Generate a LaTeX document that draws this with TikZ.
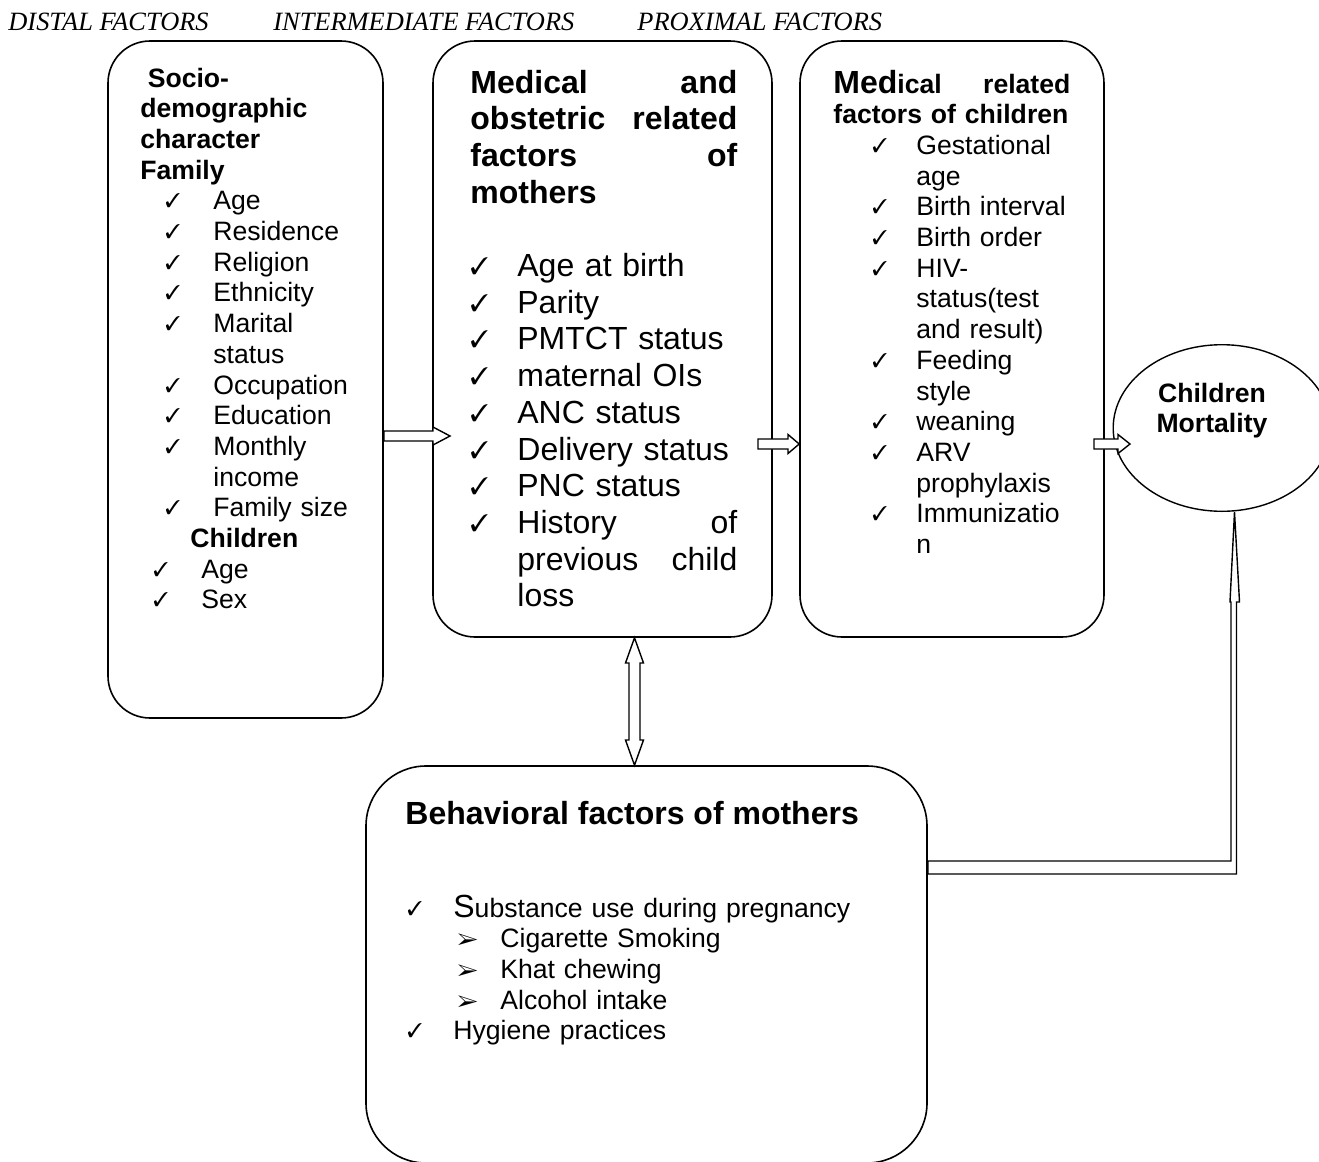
\documentclass[tikz,border=0pt]{standalone}
\usepackage{fontspec}
\setmainfont{Liberation Sans}
\newfontfamily\timesfont{Liberation Serif}
\usepackage{pifont}
\usepackage{graphicx}
\usetikzlibrary{shapes.geometric}

\newcommand{\ck}[1][24pt]{\makebox[#1][l]{\raisebox{1pt}{\scalebox{0.75}{\ding{51}}}}}
\newcommand{\subarr}[1][21.5pt]{\makebox[#1][l]{\scalebox{0.85}{\ding{226}}}}

\begin{document}
\begin{tikzpicture}[x=0.5pt,y=-0.5pt,
	factorbox/.style={draw,rounded corners=21pt,line width=0.8pt,inner sep=0pt},
	boxtext/.style={anchor=base west,inner sep=0pt,align=left,font=\fontsize{13.3}{15.35}\selectfont},
	bigtext/.style={anchor=base west,inner sep=0pt,align=left,font=\fontsize{16}{18.35}\selectfont},
	toplabel/.style={anchor=base west,inner sep=0pt,font=\timesfont\itshape\fontsize{13.2}{15}\selectfont},
	fatarrow/.style={draw,fill=white,line width=0.7pt,line join=miter}]
		\useasboundingbox (0,0) rectangle (1319,1162);
		
		% labels on top
		\node[toplabel] (distal) at (8,30) {DISTAL FACTORS};
		\node[toplabel] (interm) at (273,30) {INTERMEDIATE FACTORS};
		\node[toplabel] (proxim) at (637,30) {PROXIMAL FACTORS};
		
		% draw boxes
		\node[factorbox,minimum width=137.5pt,minimum height=338.5pt] (s1) at (245.5,379.5) {};
		\node[factorbox,minimum width=169.5pt,minimum height=298pt] (m1) at (602.5,339) {};
		\node[factorbox,minimum width=152pt,minimum height=298pt] (c1) at (952,339) {};
		\node[factorbox,rounded corners=30pt,minimum width=280.5pt,minimum height=198.5pt] (b1) at (646.5,964.5) {};
		\node[draw,ellipse,line width=0.7pt,inner sep=0pt,minimum width=108.8pt,minimum height=83.3pt] (ell) at (1222,428) {};
		
		% socio-demographic text
		\node[boxtext,text width=120pt] (s1t) at (140,87) {%
			\textbf{\hspace*{3.7pt}Socio-}\\
			\textbf{demographic}\\
			\textbf{character}\\
			\textbf{Family}\\
			\hspace*{12.5pt}\ck Age\\
			\hspace*{12.5pt}\ck Residence\\
			\hspace*{12.5pt}\ck Religion\\
			\hspace*{12.5pt}\ck Ethnicity\\
			\hspace*{12.5pt}\ck Marital\\
			\hspace*{36.5pt}status\\
			\hspace*{12.5pt}\ck Occupation\\
			\hspace*{12.5pt}\ck Education\\
			\hspace*{12.5pt}\ck Monthly\\
			\hspace*{36.5pt}income\\
			\hspace*{12.5pt}\ck Family size\\
			\hspace*{25pt}\textbf{Children}\\
			\hspace*{6.5pt}\ck Age\\
			\hspace*{6.5pt}\ck Sex};
		
		% medical and obstetric text
		\node[bigtext,text width=133.5pt] (m1t) at (470,93) {%
			\textbf{Medical\hfill and}\\
			\textbf{obstetric\hfill related}\\
			\textbf{factors\hfill of}\\
			\textbf{mothers}\\[18.35pt]
			\ck[23.5pt]Age at birth\\
			\ck[23.5pt]Parity\\
			\ck[23.5pt]PMTCT status\\
			\ck[23.5pt]maternal OIs\\
			\ck[23.5pt]ANC status\\
			\ck[23.5pt]Delivery status\\
			\ck[23.5pt]PNC status\\
			\ck[23.5pt]History\hfill of\\
			\hspace*{23.5pt}previous\hfill child\\
			\hspace*{23.5pt}loss};
		
		% medical factors of children text
		\node[boxtext,text width=118.5pt] (c1t) at (833,93) {%
			\textbf{{\fontsize{16}{18}\selectfont Med}ical\hfill related}\\
			\textbf{factors of children}\\
			\hspace*{19.5pt}\ck[22pt]Gestational\\
			\hspace*{41.5pt}age\\
			\hspace*{19.5pt}\ck[22pt]Birth interval\\
			\hspace*{19.5pt}\ck[22pt]Birth order\\
			\hspace*{19.5pt}\ck[22pt]HIV-\\
			\hspace*{41.5pt}status(test\\
			\hspace*{41.5pt}and result)\\
			\hspace*{19.5pt}\ck[22pt]Feeding\\
			\hspace*{41.5pt}style\\
			\hspace*{19.5pt}\ck[22pt]weaning\\
			\hspace*{19.5pt}\ck[22pt]ARV\\
			\hspace*{41.5pt}prophylaxis\\
			\hspace*{19.5pt}\ck[22pt]Immunizatio\\
			\hspace*{41.5pt}n};
		
		% mortality text
		\node[anchor=base,inner sep=0pt,text width=70pt,align=center,font=\fontsize{13.3}{15.35}\selectfont\bfseries] (mort) at (1212,402) {Children\\Mortality};
		
		% behavioral text
		\node[bigtext,font=\fontsize{16}{18.35}\selectfont\bfseries] (b1t) at (405,824) {Behavioral factors of mothers};
		\node[boxtext,text width=250pt] (b1l) at (407,917) {%
			\ck[23pt]{\fontsize{16}{18}\selectfont S}ubstance use during pregnancy\\
			\hspace*{25pt}\subarr Cigarette Smoking\\
			\hspace*{25pt}\subarr Khat chewing\\
			\hspace*{25pt}\subarr Alcohol intake\\
			\ck[23pt]Hygiene practices};
		
		% draw arrow from distal to intermediate factors
		\draw[fatarrow] (s1.east |- 0,431) -- (433,431) -- (433,427) -- (450,436)
			-- (433,445) -- (433,441) -- (s1.east |- 0,441) -- cycle;
		
		% draw arrow from intermediate to proximal factors
		\draw[fatarrow] (758,439) -- (788,439) -- (788,434.5) -- (c1.west |- 0,444)
			-- (788,453.5) -- (788,449) -- (758,449) -- cycle;
		
		% draw arrow from proximal factors to mortality
		\draw[fatarrow] (1094,439) -- (1118,439) -- (1118,434.5) -- (1130,444)
			-- (1118,453.5) -- (1118,449) -- (1094,449) -- cycle;
		
		% draw double arrow between the two boxes of mothers
		\draw[fatarrow] (m1.south -| 634.5,0) -- (643.5,663) -- (640,663) -- (640,740) -- (643.5,740)
			-- (b1.north -| 634.5,0) -- (625.5,740) -- (629,740) -- (629,663) -- (625.5,663) -- cycle;
		
		% draw line from behavioral box to mortality
		\draw[fatarrow] (b1.east |- 0,861) -- (1231,861) -- (1231,602) -- (1230,602) -- (ell.south -| 1234.5,0)
			-- (1239.5,602) -- (1236.5,602) -- (1236.5,874) -- (b1.east |- 0,874) -- cycle;
\end{tikzpicture}
\end{document}
